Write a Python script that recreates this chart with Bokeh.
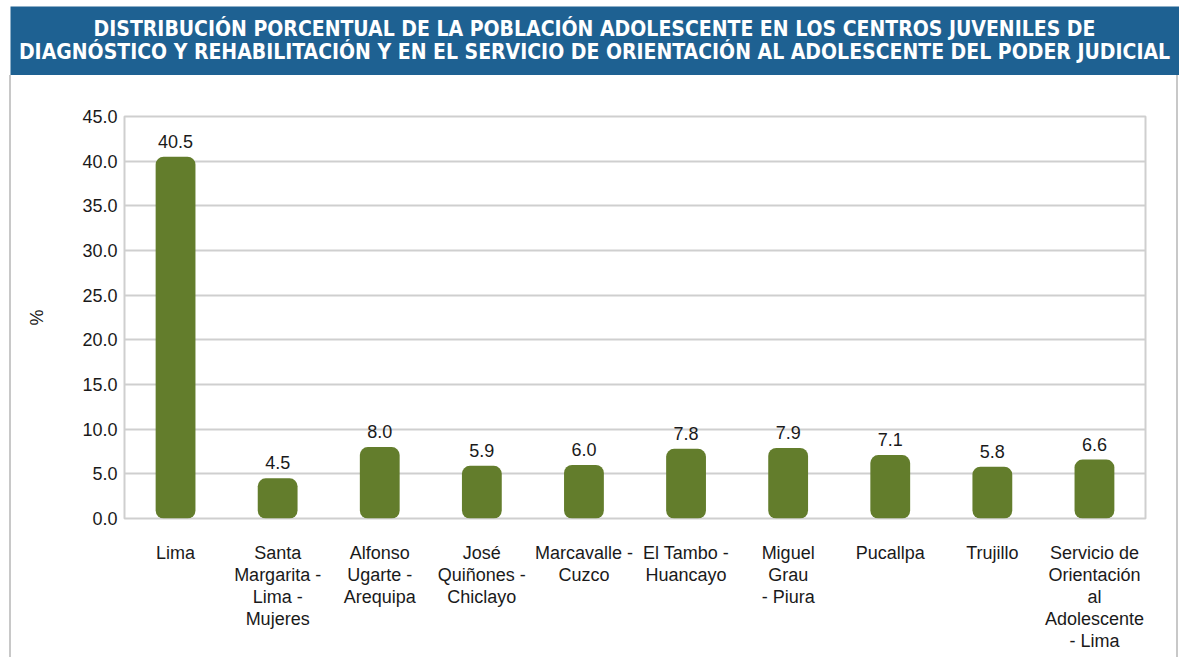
from bokeh.plotting import figure
from bokeh.models import Range1d, FactorRange, FixedTicker, NumeralTickFormatter, ColumnDataSource
from bokeh.core.properties import value
from bokeh.embed import file_html
from bokeh.resources import INLINE

# ---- data ----
title_lines = [
    "DISTRIBUCIÓN PORCENTUAL DE LA POBLACIÓN ADOLESCENTE EN LOS CENTROS JUVENILES DE",
    "DIAGNÓSTICO Y REHABILITACIÓN Y EN EL SERVICIO DE ORIENTACIÓN AL ADOLESCENTE DEL PODER JUDICIAL",
]
categories = [
    "Lima",
    "Santa\nMargarita -\nLima -\nMujeres",
    "Alfonso\nUgarte -\nArequipa",
    "José\nQuiñones -\nChiclayo",
    "Marcavalle -\nCuzco",
    "El Tambo -\nHuancayo",
    "Miguel\nGrau\n- Piura",
    "Pucallpa",
    "Trujillo",
    "Servicio de\nOrientación\nal\nAdolescente\n- Lima",
]
values = [40.5, 4.5, 8.0, 5.9, 6.0, 7.8, 7.9, 7.1, 5.8, 6.6]
value_labels = ["40.5", "4.5", "8.0", "5.9", "6.0", "7.8", "7.9", "7.1", "5.8", "6.6"]
y_ticks = [0, 5, 10, 15, 20, 25, 30, 35, 40, 45]
y_label = "%"

# ---- style ----
BLUE = "#1e6192"
GREEN = "#637d2c"
GRID = "#cfcfcf"
SIDE = "#c8c8c8"
FONT = "Liberation Sans"
TFONT = "'DejaVu Sans Condensed', 'Liberation Sans Narrow', 'Liberation Sans'"
W = 1179
HH = 75
PX0 = 11          # chart box starts after a 9px gap and a 2px grey rule
PW = 1176 - PX0   # chart box inner width, up to the right grey rule

# ---- header (its own root, so its frame is not aligned to the chart) ----
hdr = figure(width=W, height=HH, x_range=Range1d(10, W), y_range=Range1d(HH, 6),
             output_backend="svg", toolbar_location=None,
             min_border_left=10, min_border_right=0, min_border_top=6, min_border_bottom=0)
hdr.xaxis.visible = False
hdr.yaxis.visible = False
hdr.grid.visible = False
hdr.background_fill_color = BLUE
hdr.border_fill_color = "white"
hdr.outline_line_color = None
hdr.text(x=[594, 594], y=[28.5, 51.5], text=title_lines,
         text_font=value(TFONT), text_font_style="bold", text_font_size="21px",
         text_color="white", text_align="center", text_baseline="middle")

# ---- chart ----
src = ColumnDataSource(dict(cat=categories, val=values, lab=value_labels))
PH = 657 - HH
p = figure(width=PW, height=PH, x_range=FactorRange(*categories), y_range=Range1d(0, 45),
           output_backend="svg", toolbar_location=None,
           min_border_left=124 - PX0, min_border_right=(PX0 + PW) - 1145 + 4,
           min_border_top=116 - HH, min_border_bottom=PH - (116 - HH) - 402,
           styles={"margin-left": "9px",
                   "border-left": f"2px solid {SIDE}",
                   "border-right": f"2px solid {SIDE}",
                   "box-sizing": "content-box"})
p.outline_line_color = GRID
p.outline_line_width = 2
p.background_fill_color = "white"
p.border_fill_color = "white"

p.vbar(x="cat", top="val", width=0.39, source=src, fill_color=GREEN, line_color=None,
       border_radius=8)
p.text(x="cat", y="val", text="lab", source=src, y_offset=-9,
       text_font=value(FONT), text_font_size="18px", text_color="#1a1a1a",
       text_align="center", text_baseline="bottom")

p.xgrid.visible = False
p.ygrid.grid_line_color = GRID
p.ygrid.grid_line_width = 2

p.yaxis.ticker = FixedTicker(ticks=y_ticks)
p.yaxis.formatter = NumeralTickFormatter(format="0.0")
p.yaxis.axis_label = y_label
p.yaxis.axis_label_text_font_style = "normal"
p.yaxis.axis_label_text_font = FONT
p.yaxis.axis_label_text_font_size = "18px"
p.yaxis.axis_label_text_color = "#1a1a1a"
p.yaxis.axis_label_standoff = 32

for ax in (p.xaxis, p.yaxis):
    ax.axis_line_color = None
    ax.major_tick_line_color = None
    ax.minor_tick_line_color = None
    ax.major_tick_out = 0
    ax.major_tick_in = 0
    ax.minor_tick_out = 0
    ax.major_label_text_font = FONT
    ax.major_label_text_font_size = "18px"
    ax.major_label_text_color = "#1a1a1a"

p.yaxis.major_label_standoff = 7
p.xaxis.major_label_standoff = 24
p.xaxis.major_label_text_line_height = 1.1

open("out.html", "w").write(file_html([hdr, p], INLINE))
